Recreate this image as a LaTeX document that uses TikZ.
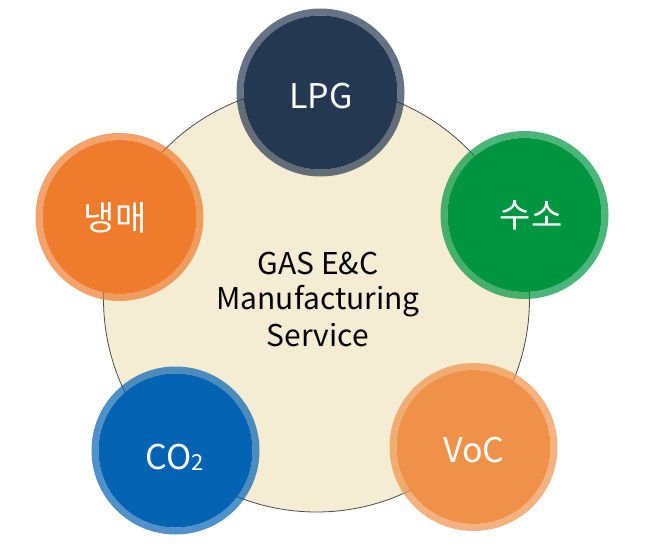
\documentclass[tikz,border=0pt]{standalone}
\usepackage{fontspec}
\setmainfont{Noto Sans CJK KR}
\definecolor{cream}{HTML}{F4ECD3}
\definecolor{navy}{HTML}{253852}
\definecolor{gr}{HTML}{009640}
\definecolor{orA}{HTML}{EE7C2C}
\definecolor{bl}{HTML}{0563B4}
\definecolor{orB}{HTML}{F0914A}
\tikzset{
  bubble/.style={circle, minimum size=154pt, inner sep=0pt},
  ringline/.style={line width=7pt, draw opacity=0.7},
  btext/.style={text=white, inner sep=0pt, font=\fontsize{34}{38}\selectfont},
}
\begin{document}
\begin{tikzpicture}[x=1pt,y=-1pt]
\useasboundingbox (0,0) rectangle (650,554);
\node[circle, minimum size=426pt, inner sep=0pt, fill=cream, draw=black!70, line width=0.8pt] (main) at (316.5,299) {};
\node[font=\fontsize{30}{36}\selectfont, align=center, text=black] (title) at (318,299) {GAS E\&C\\Manufacturing\\Service};
% LPG
\node[bubble, fill=navy] (lpg) at (320.5,92.5) {};
\draw[ringline, navy] (lpg.center) circle (80.5);
\node[btext] (lpgt) at (321,96) {LPG};
% hydrogen
\node[bubble, fill=gr] (h2) at (524.5,215) {};
\draw[ringline, gr] (h2.center) circle (80.5);
\node[btext] (h2t) at (531,215) {수소};
% refrigerant
\node[bubble, fill=orA] (ref) at (119.5,217) {};
\draw[ringline, orA] (ref.center) circle (80.5);
\node[btext] (reft) at (115,218) {냉매};
% CO2
\node[bubble, fill=bl] (co) at (175.5,450.5) {};
\draw[ringline, bl] (co.center) circle (80.5);
\node[btext] (cot) at (175,457) {CO\raisebox{-1pt}{\fontsize{22}{24}\selectfont 2}};
% VoC
\node[bubble, fill=orB] (voc) at (473.5,447) {};
\draw[ringline, orB] (voc.center) circle (80.5);
\node[btext] (voct) at (474,450) {VoC};
\end{tikzpicture}
\end{document}
